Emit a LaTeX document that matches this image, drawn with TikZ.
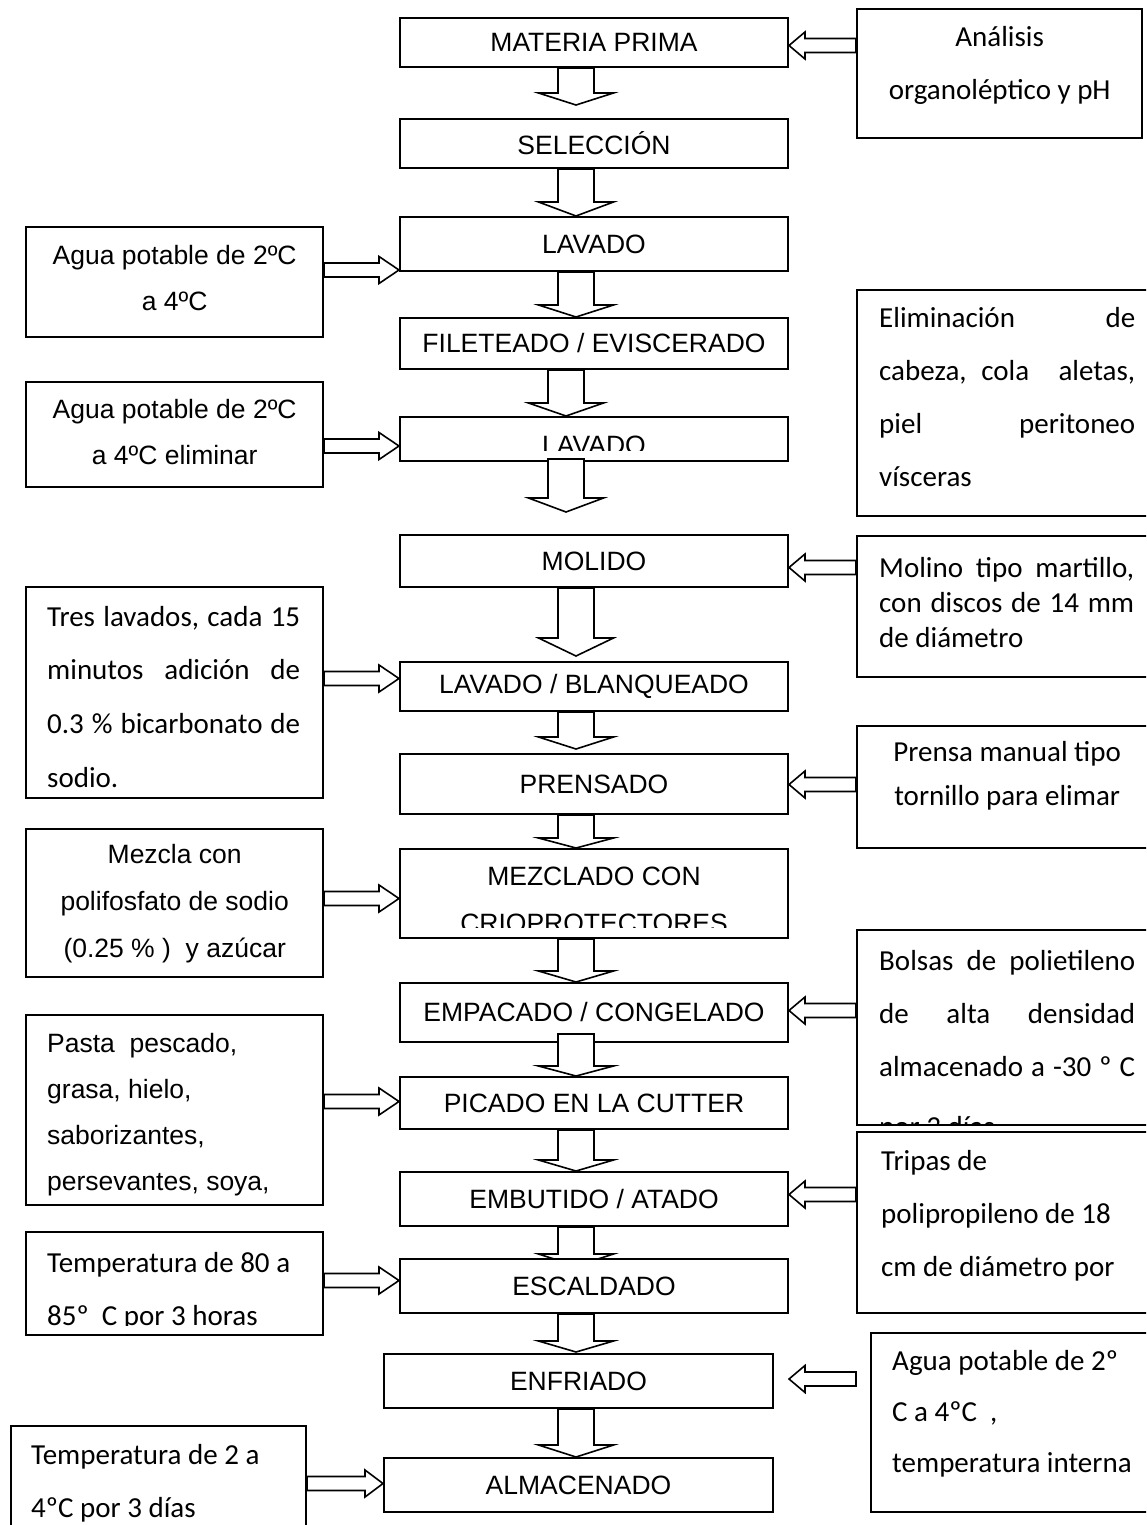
\documentclass[tikz,border=0pt]{standalone}
\usepackage{fontspec}
\setmainfont{Liberation Sans}
\newfontfamily\calib{Carlito}
\usetikzlibrary{calc}
\pgfdeclarelayer{bg}
\pgfdeclarelayer{back}
\pgfsetlayers{bg,back,main}
\frenchspacing
\newcommand\arialsize{\fontsize{26.5}{30}\selectfont}
\newcommand\calsize{\calib\fontsize{29}{35}\selectfont}
\newcommand\linesbox[2]{\vtop{\baselineskip=#1\lineskiplimit=-1000pt\lineskip=0pt #2}}
\newcommand\mkctr[2]{\hbox to #1{\hfil #2\hfil}}
\newcommand\mkjus[2]{\hbox to #1{#2}}
\hbadness=100000
\newcommand\varrow[3]{\draw[blk] let \p1=#1, \p2=#2 in ({\x2-18pt},\y1) -- ({\x2-18pt},{\y2+#3}) -- ({\x2-37.5pt},{\y2+#3}) -- (\x2,\y2) -- ({\x2+37.5pt},{\y2+#3}) -- ({\x2+18pt},{\y2+#3}) -- ({\x2+18pt},\y1) -- cycle;}
\newcommand\rarrow[3]{\draw[blk] let \p1=#1, \p2=#2 in (\x1,{\y2+7pt}) -- ({\x2-#3},{\y2+7pt}) -- ({\x2-#3},{\y2+13.5pt}) -- (\x2,\y2) -- ({\x2-#3},{\y2-13.5pt}) -- ({\x2-#3},{\y2-7pt}) -- (\x1,{\y2-7pt}) -- cycle;}
\newcommand\larrow[3]{\draw[blk] let \p1=#1, \p2=#2 in (\x1,{\y2+7pt}) -- ({\x2+#3},{\y2+7pt}) -- ({\x2+#3},{\y2+13.5pt}) -- (\x2,\y2) -- ({\x2+#3},{\y2-13.5pt}) -- ({\x2+#3},{\y2-7pt}) -- (\x1,{\y2-7pt}) -- cycle;}
\tikzset{
  proc/.style={draw, line width=2pt, fill=white, inner sep=0pt, font=\arialsize, minimum width=388pt},
  side/.style={draw, line width=2pt, fill=white, inner sep=0pt},
  txt/.style={inner sep=0pt, anchor=base west},
  ctxt/.style={inner sep=0pt, anchor=base, font=\arialsize},
  blk/.style={draw, line width=1.6pt, fill=white, line join=miter}
}
\begin{document}
\begin{tikzpicture}[x=1pt, y=-1pt]
\useasboundingbox (0,0) rectangle (1146,1525);
\begin{pgfonlayer}{bg}
\fill[white] (0,0) rectangle (1146,1525);
\end{pgfonlayer}
\clip (0,0) rectangle (1146,1525);

% main process boxes
\node[proc, minimum height=49pt] (mp) at (594,42.5) {MATERIA PRIMA};
\node[proc, minimum height=49pt] (sel) at (594,143.5) {SELECCIÓN};
\node[proc, minimum height=54pt] (lav1) at (594,244) {LAVADO};
\node[proc, minimum height=51pt] (file) at (594,343.5) {FILETEADO / EVISCERADO};
\node[proc, minimum height=44pt] (lav2) at (594,439) {};
\node[proc, minimum height=52pt] (molido) at (594,561) {MOLIDO};
\node[proc, minimum height=49pt] (lb) at (594,686.5) {LAVADO / BLANQUEADO};
\node[proc, minimum height=60pt] (prensado) at (594,784) {PRENSADO};
\node[proc, minimum height=89pt] (mez) at (594,893.5) {};
\node[proc, minimum height=59pt] (emp) at (594,1012.5) {EMPACADO / CONGELADO};
\node[proc, minimum height=52pt] (pic) at (594,1103) {PICADO EN LA CUTTER};
\node[proc, minimum height=54pt] (emb) at (594,1199) {EMBUTIDO / ATADO};
\node[proc, minimum height=54pt] (esc) at (594,1286) {ESCALDADO};
\node[proc, minimum width=389pt, minimum height=54pt] (enf) at (578.5,1381) {ENFRIADO};
\node[proc, minimum width=389pt, minimum height=54pt] (alm) at (578.5,1485) {ALMACENADO};

\begin{scope}
\clip (400,417) rectangle (788,450);
\node[ctxt] (tlav2) at (594,454) {LAVADO};
\end{scope}
\begin{scope}
\clip (400,849) rectangle (788,927);
\node[ctxt] (tmez1) at (594,885) {MEZCLADO CON};
\node[ctxt] (tmez2) at (594,932) {CRIOPROTECTORES};
\end{scope}

% side boxes, right
\node[side, minimum width=285pt, minimum height=129pt] (anal) at (999.5,73.5) {};
\node[side, minimum width=303pt, minimum height=226pt] (elim) at (1008.5,403) {};
\node[side, minimum width=303pt, minimum height=141pt] (molino) at (1008.5,606.5) {};
\node[side, minimum width=303pt, minimum height=122pt] (prensa) at (1008.5,787) {};
\node[side, minimum width=303pt, minimum height=195pt] (bolsas) at (1008.5,1027.5) {};
\node[side, minimum width=303pt, minimum height=181pt] (tripas) at (1008.5,1222.5) {};
\node[side, minimum width=289pt, minimum height=179pt] (agua3) at (1015.5,1422.5) {};
% side boxes, left
\node[side, minimum width=297pt, minimum height=110pt] (agua1) at (174.5,282) {};
\node[side, minimum width=297pt, minimum height=105pt] (agua2) at (174.5,434.5) {};
\node[side, minimum width=297pt, minimum height=211pt] (tres) at (174.5,692.5) {};
\node[side, minimum width=297pt, minimum height=148pt] (mezcla) at (174.5,903) {};
\node[side, minimum width=297pt, minimum height=190pt] (pasta) at (174.5,1110) {};
\node[side, minimum width=297pt, minimum height=103pt] (temp80) at (174.5,1283.5) {};
\node[side, minimum width=295pt, minimum height=114pt] (temp2) at (158.5,1483) {};

% texts, right
\node[txt] (tanal) at (857,47) {\calsize\linesbox{53pt}{\mkctr{285pt}{Análisis}\mkctr{285pt}{organoléptico y pH}}};
\node[txt] (telim) at (879,327) {\calsize\linesbox{53pt}{\mkjus{256pt}{Eliminación de}\mkjus{256pt}{cabeza, cola\ \ aletas,}\mkjus{256pt}{piel peritoneo}\hbox{vísceras}}};
\node[txt] (tmol) at (879,577) {\calsize\linesbox{35.4pt}{\mkjus{255pt}{Molino tipo martillo,}\mkjus{255pt}{con discos de 14 mm}\hbox{de diámetro}}};
\node[txt] (tpren) at (857,761) {\calsize\linesbox{44pt}{\mkctr{300pt}{Prensa manual tipo}\mkctr{300pt}{tornillo para elimar}}};
\node[txt] (tbol) at (879,970) {\calsize\linesbox{53pt}{\mkjus{256pt}{Bolsas de polietileno}\mkjus{256pt}{de alta densidad}\mkjus{256pt}{almacenado a -30 º C}}};
\begin{scope}
\clip (857,930) rectangle (1160,1123);
\node[txt] (tbol4) at (879,1136) {\calsize por 3 días};
\end{scope}
\node[txt] (ttrip) at (881,1170) {\calsize\linesbox{53pt}{\hbox{Tripas de}\hbox{polipropileno de 18}\hbox{cm de diámetro por}}};
\node[txt] (tag3) at (892,1370.5) {\calsize\linesbox{51pt}{\hbox{Agua potable de 2º}\hbox{C a 4ºC\ \ ,}\hbox{temperatura interna}}};

% texts, left
\node[txt] (tag1) at (26,264) {\arialsize\linesbox{46pt}{\mkctr{297pt}{Agua potable de 2ºC}\mkctr{297pt}{a 4ºC}}};
\node[txt] (tag2) at (26,418) {\arialsize\linesbox{46pt}{\mkctr{297pt}{Agua potable de 2ºC}\mkctr{297pt}{a 4ºC eliminar}}};
\node[txt] (ttres) at (47,626) {\calsize\linesbox{53.7pt}{\mkjus{253pt}{Tres lavados, cada 15}\mkjus{253pt}{minutos adición de}\mkjus{253pt}{0.3 \% bicarbonato de}\hbox{sodio.}}};
\node[txt] (tmezc) at (26,863) {\arialsize\linesbox{47pt}{\mkctr{297pt}{Mezcla con}\mkctr{297pt}{polifosfato de sodio}\mkctr{297pt}{(0.25 \% )\ \ y azúcar}}};
\node[txt] (tpasta) at (47,1052) {\arialsize\linesbox{46.3pt}{\hbox{Pasta\ \ pescado,}\hbox{grasa, hielo,}\hbox{saborizantes,}\hbox{persevantes, soya,}}};
\begin{scope}
\clip (26,1232) rectangle (323,1325);
\node[txt] (tt80) at (47,1272) {\calsize\linesbox{53pt}{\hbox{Temperatura de 80 a}\hbox{85º\ \ C por 3 horas}}};
\end{scope}
\node[txt] (tt2) at (31,1464) {\calsize\linesbox{53pt}{\hbox{Temperatura de 2 a}\hbox{4ºC por 3 días}}};

% connectors
\larrow{(anal.west)}{($(mp.east)+(0,3)$)}{16pt}
\varrow{(mp.south)}{($(sel.north)+(-18,-13)$)}{12pt}
\varrow{(sel.south)}{($(lav1.north)+(-18,0)$)}{14pt}
\rarrow{(agua1.east)}{($(lav1.west)+(0,26)$)}{20pt}
\varrow{(lav1.south)}{($(file.north)+(-18,0)$)}{12pt}
\varrow{(file.south)}{($(lav2.north)+(-28,0)$)}{13pt}
\rarrow{(agua2.east)}{($(lav2.west)+(0,7)$)}{20pt}
\varrow{($(lav2.south)+(0,-3)$)}{($(molido.north)+(-28,-22)$)}{14pt}
\larrow{(molino.west)}{($(molido.east)+(0,6.5)$)}{16pt}
\varrow{(molido.south)}{($(lb.north)+(-18,-5)$)}{18pt}
\rarrow{(tres.east)}{($(lb.west)+(0,-8)$)}{20pt}
\varrow{(lb.south)}{($(prensado.north)+(-18,-4)$)}{12pt}
\larrow{(prensa.west)}{($(prensado.east)+(0,0.5)$)}{16pt}
\varrow{(prensado.south)}{($(mez.north)+(-18,0)$)}{10pt}
\rarrow{(mezcla.east)}{($(mez.west)+(0,5)$)}{20pt}
\varrow{(mez.south)}{($(emp.north)+(-18,0)$)}{11pt}
\larrow{(bolsas.west)}{($(emp.east)+(0,-2)$)}{16pt}
\varrow{($(emp.south)+(0,-9)$)}{($(pic.north)+(-18,0)$)}{10pt}
\rarrow{(pasta.east)}{($(pic.west)+(0,-1.5)$)}{20pt}
\varrow{(pic.south)}{($(emb.north)+(-18,0)$)}{11pt}
\larrow{(tripas.west)}{($(emb.east)+(0,-4.5)$)}{16pt}
\begin{pgfonlayer}{back}
\varrow{(emb.south)}{($(esc.north)+(-18,8)$)}{12pt}
\end{pgfonlayer}
\rarrow{(temp80.east)}{($(esc.west)+(0,-5.5)$)}{20pt}
\varrow{(esc.south)}{($(enf.north)+(-2.5,-1)$)}{11pt}
\larrow{($(agua3.west)+(-14,0)$)}{($(enf.east)+(15,-2)$)}{16pt}
\varrow{(enf.south)}{($(alm.north)+(-2.5,0)$)}{12pt}
\rarrow{(temp2.east)}{($(alm.west)+(0,-1.5)$)}{18pt}
\end{tikzpicture}
\end{document}
